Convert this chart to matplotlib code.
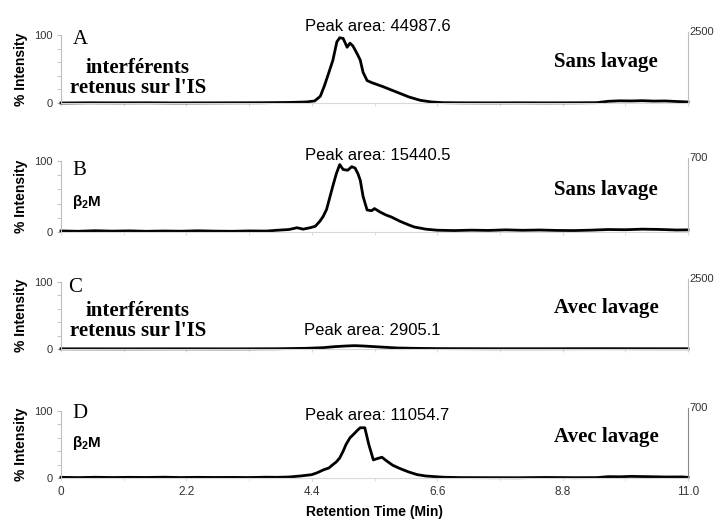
import matplotlib
matplotlib.use("Agg")
import matplotlib.pyplot as plt
from matplotlib.ticker import MultipleLocator

plt.rcParams['font.family'] = ['Liberation Sans', 'DejaVu Sans']

# ---- data ----
time_a = [0, 0.5, 1.0, 1.5, 2.0, 2.5, 3.0, 3.5, 4.0, 4.3, 4.45, 4.55, 4.62, 4.7,
          4.77, 4.84, 4.89, 4.95, 5.02, 5.07, 5.12, 5.16, 5.21, 5.25, 5.3, 5.37,
          5.45, 5.55, 5.65, 5.8, 5.95, 6.1, 6.3, 6.5, 6.7, 7.0, 7.5, 8.0, 8.5,
          9.0, 9.4, 9.6, 9.8, 10.0, 10.2, 10.4, 10.6, 10.8, 11.0]
int_a = [0, 0.3, 0.2, 0.3, 0.1, 0.2, 0.3, 0.4, 0.8, 1.5, 3, 10, 25, 45,
         63, 90, 96, 95, 82, 88, 84, 78, 70, 63, 45, 33,
         30, 27, 24, 19, 14, 9, 4, 1.5, 0.5, 0.3, 0.2, 0.3, 0.2,
         0.3, 0.5, 2.5, 3.2, 3.0, 3.4, 2.8, 3.0, 2.2, 1.5]

time_b = [0, 0.3, 0.6, 0.9, 1.2, 1.5, 1.8, 2.1, 2.4, 2.7, 3.0, 3.3, 3.6, 3.8,
          4.0, 4.14, 4.25, 4.37, 4.46, 4.54, 4.6, 4.66, 4.72, 4.77, 4.83, 4.89,
          4.95, 5.03, 5.1, 5.16, 5.21, 5.25, 5.3, 5.37, 5.45, 5.5, 5.6, 5.7,
          5.8, 5.95, 6.1, 6.2, 6.4, 6.6, 6.9, 7.2, 7.5, 7.8, 8.1, 8.4, 8.7, 9.0,
          9.3, 9.6, 9.9, 10.2, 10.5, 10.8, 11.0]
int_b = [1.5, 1.0, 1.8, 1.2, 1.6, 1.0, 1.4, 1.1, 1.7, 1.2, 1.0, 1.5, 1.3, 2.5,
         3.5, 6, 4, 6, 8, 15, 22, 32, 50, 65, 82, 95,
         88, 87, 92, 90, 82, 73, 50, 31, 30, 33, 28, 24,
         21, 15, 10, 7, 4, 2.5, 2, 2.6, 2.2, 3.0, 2.4, 2.8, 2.2, 2.0,
         2.6, 3.5, 3.2, 4.0, 3.6, 2.8, 3.0]

time_c = [0, 1.0, 2.0, 3.0, 3.8, 4.3, 4.6, 4.8, 5.0, 5.15, 5.3, 5.5, 5.7, 5.9,
          6.2, 6.6, 7.5, 8.5, 9.5, 10.5, 11.0]
int_c = [0.3, 0.2, 0.3, 0.2, 0.4, 1.0, 2.0, 3.5, 4.5, 5.0, 4.5, 3.5, 2.5, 1.5,
         1.0, 0.6, 0.4, 0.4, 0.5, 0.4, 0.4]

time_d = [0, 0.3, 0.6, 0.9, 1.2, 1.5, 1.8, 2.1, 2.4, 2.7, 3.0, 3.3, 3.6, 3.8,
          4.0, 4.2, 4.4, 4.5, 4.6, 4.7, 4.77, 4.83, 4.89, 4.95, 5.0, 5.07,
          5.13, 5.21, 5.25, 5.33, 5.4, 5.48, 5.55, 5.63, 5.72, 5.82, 5.95,
          6.1, 6.25, 6.4, 6.7, 7.0, 7.5, 8.0, 8.5, 9.0, 9.4, 9.6, 9.8, 10.0,
          10.3, 10.6, 10.9, 11.0]
int_d = [1.0, 0.6, 1.1, 0.7, 1.0, 0.8, 1.2, 0.7, 1.0, 0.8, 0.9, 0.7, 1.2, 1.0,
         1.5, 3, 5, 8, 12, 15, 20, 24, 30, 40, 50, 60,
         65, 72, 75, 75, 50, 27, 29, 31, 25, 19, 14,
         9, 5, 3, 1.2, 0.6, 0.5, 0.4, 0.8, 0.5, 0.6, 2.0, 1.8, 2.4,
         2.0, 1.5, 1.6, 1.0]

times = [time_a, time_b, time_c, time_d]
intens = [int_a, int_b, int_c, int_d]
letters = ['A', 'B', 'C', 'D']
peak_areas = ['Peak area: 44987.6', 'Peak area: 15440.5',
              'Peak area: 2905.1', 'Peak area: 11054.7']
labels = ['interférents\nretenus sur l\'IS', 'β$_{\\mathregular{2}}$M',
          'interférents\nretenus sur l\'IS', 'β$_{\\mathregular{2}}$M']
conditions = ['Sans lavage', 'Sans lavage', 'Avec lavage', 'Avec lavage']
right_max = ['2500', '700', '2500', '700']
xticks = [0, 2.2, 4.4, 6.6, 8.8, 11.0]
xtick_labels = ['0', '2.2', '4.4', '6.6', '8.8', '11.0']

# text positions per panel (data coords)
letter_pos = [(0.2, 93), (0.2, 87), (0.12, 92), (0.2, 97)]
label_pos = [(1.35, 37), (0.2, 42), (1.35, 42), (0.2, 52)]
peak_pos = [(5.55, 112), (5.55, 108), (5.46, 28), (5.55, 94)]
cond_y = [60, 59, 61, 61]

# ---- layout: (top, bottom) in pixels ----
W, H = 722, 520
boxes = [(35, 103), (161, 232), (282, 349), (411, 478)]
left, right = 61 / W, 688 / W

fig = plt.figure(figsize=(W / 100, H / 100), dpi=100)
grey = '#bdbdbd'
serif = ['Liberation Serif', 'DejaVu Serif']

for i in range(4):
    top_px, bot_px = boxes[i]
    ax = fig.add_axes([left, 1 - bot_px / H, right - left, (bot_px - top_px) / H])
    ax.plot(times[i], intens[i], color='black', lw=2.0, clip_on=False,
            solid_joinstyle='round')
    ax.set_xlim(0, 11)
    ax.set_ylim(0, 100)

    ax.spines['top'].set_visible(False)
    ax.spines['left'].set_color(grey)
    ax.spines['bottom'].set_color('#d9d9d9')
    ax.spines['right'].set_color('#888888' if i == 3 else grey)
    ax.spines['right'].set_bounds(0, 104)

    ax.set_yticks([0, 100])
    ax.set_yticklabels(['0', '100'], fontsize=8, color='#333333')
    ax.yaxis.set_minor_locator(MultipleLocator(20))
    ax.tick_params(axis='y', which='both', color=grey, length=3, pad=3)
    ax.set_xticks(xticks)
    ax.xaxis.set_minor_locator(MultipleLocator(1.1))
    ax.tick_params(axis='x', which='both', color='#d9d9d9', length=2)
    if i == 3:
        ax.set_xticklabels(xtick_labels, fontsize=8.5, color='#333333')
        ax.set_xlabel('Retention Time (Min)', fontsize=10, fontweight='bold',
                      labelpad=5)
    else:
        ax.set_xticklabels([])

    ax.set_ylabel('% Intensity', fontsize=10, fontweight='bold')
    ax.yaxis.set_label_coords(-0.052, 0.5)

    ax.text(11.02, 104, right_max[i], fontsize=8, color='#333333',
            ha='left', va='center')

    ax.text(*letter_pos[i], letters[i], family=serif,
            fontsize=15, ha='left', va='center')
    if i in (0, 2):
        ax.text(*label_pos[i], labels[i], family=serif,
                fontsize=15, fontweight='bold', ha='center', va='center',
                linespacing=1.0, multialignment='center')
    else:
        ax.text(*label_pos[i], labels[i], fontsize=11, fontweight='bold',
                ha='left', va='center')

    ax.text(*peak_pos[i], peak_areas[i], fontsize=12, ha='center',
            va='center')
    ax.text(9.56, cond_y[i], conditions[i], family=serif,
            fontsize=15, fontweight='bold', ha='center', va='center')

fig.savefig('out.png', dpi=100, facecolor='white')
